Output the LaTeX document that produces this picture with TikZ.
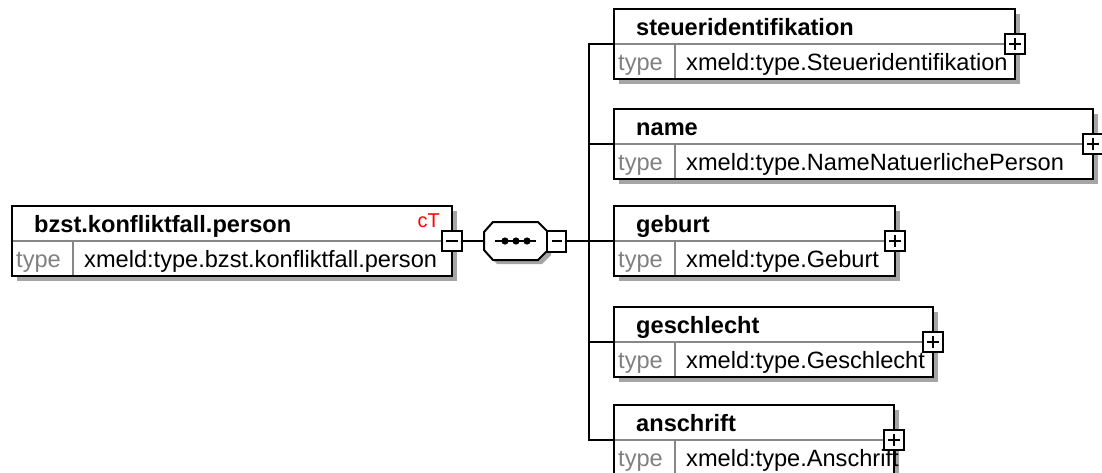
\documentclass[tikz,border=0pt]{standalone}
\usepackage{fontspec}
\setmainfont{Liberation Sans}
\definecolor{shadowgray}{RGB}{165,165,165}
\definecolor{typegray}{RGB}{128,128,128}
\definecolor{linegray}{RGB}{135,135,135}
\definecolor{ctred}{RGB}{255,0,0}
\tikzset{
  elembox/.style={draw=black, line width=2pt, fill=white, rectangle, anchor=north west, minimum height=70pt, inner sep=0pt, outer sep=0pt},
  titletext/.style={font=\fontsize{23.6}{28}\selectfont\bfseries, anchor=base west, inner sep=0pt},
  typetext/.style={font=\fontsize{23.6}{28}\selectfont, anchor=base west, inner sep=0pt},
  typelabel/.style={typetext, text=typegray},
  btnbox/.style={draw=black, line width=2pt, fill=white, minimum width=20pt, minimum height=20pt, inner sep=0pt, outer sep=0pt},
  conn/.style={line width=2pt, line cap=rect},
  sepline/.style={linegray, line width=1.5pt},
  signline/.style={line width=2.6pt}
}
\newcommand\xelem[6]{% #1 name, #2 left, #3 top, #4 width, #5 title, #6 type
  \fill[shadowgray] (#2+5,#3+5) rectangle ++(#4,70);
  \node[elembox, minimum width=#4pt] (#1) at (#2,#3) {};
  \draw[sepline] (#2+1,#3+35) -- (#2+#4-1,#3+35);
  \draw[sepline] (#2+61,#3+35) -- (#2+61,#3+69);
  \node[titletext] (#1-title) at (#2+22,#3+26) {#5};
  \node[typelabel] (#1-tl) at (#2+4,#3+61) {type};
  \node[typetext] (#1-type) at (#2+72,#3+61) {#6};
}
\newcommand\xplus[1]{% button with plus on right edge of element #1
  \node[btnbox] (#1-btn) at (#1.east) {};
  \draw[signline] ($(#1-btn.center)+(-6,0)$) -- ($(#1-btn.center)+(6,0)$);
  \draw[signline] ($(#1-btn.center)+(0,-6)$) -- ($(#1-btn.center)+(0,6)$);
}
\usetikzlibrary{calc}
\begin{document}
\begin{tikzpicture}[x=1pt,y=-1pt]
\useasboundingbox (0,0) rectangle (1102,472);
\clip (0,0) rectangle (1102,472);
\fill[white] (0,0) rectangle (1102,472);

% root element
\xelem{root}{12}{206}{440}{bzst.konfliktfall.person}{xmeld:type.bzst.konfliktfall.person}
\node[font=\fontsize{20}{24}\selectfont, text=ctred, anchor=base east, inner sep=0pt] (root-ct) at (440,227) {cT};
\node[btnbox] (root-btn) at (root.east) {};
\draw[signline] ($(root-btn.center)+(-6,0)$) -- ($(root-btn.center)+(6,0)$);

% sequence compositor
\fill[shadowgray] (488,236) -- (497,226) -- (542,226) -- (551,235) -- (551,255) -- (542,264) -- (497,264) -- (488,254) -- cycle;
\draw[line width=2pt, fill=white] (484,232) -- (493,222) -- (538,222) -- (547,231) -- (547,251) -- (538,260) -- (493,260) -- (484,250) -- cycle;
\node[minimum width=63pt, minimum height=38pt, inner sep=0pt, outer sep=0pt] (seq) at (515.5,241) {};
\draw[line width=2pt] (495,241) -- (536,241);
\foreach \dx in {505,516,527} \fill (\dx,241) circle (3.6);
\node[btnbox, minimum width=19pt, minimum height=21pt, anchor=west] (seq-btn) at (547,241) {};
\draw[signline] ($(seq-btn.center)+(-5,0)$) -- ($(seq-btn.center)+(5,0)$);

\draw[conn] (root-btn.east) -- (seq.west);

% children
\xelem{steuer}{614}{9}{401}{steueridentifikation}{xmeld:type.Steueridentifikation}
\xelem{name}{614}{109}{479}{name}{xmeld:type.NameNatuerlichePerson}
\xelem{geburt}{614}{206}{281}{geburt}{xmeld:type.Geburt}
\xelem{geschlecht}{614}{307}{319}{geschlecht}{xmeld:type.Geschlecht}
\xelem{anschrift}{614}{405}{280}{anschrift}{xmeld:type.Anschrift}
\xplus{steuer}
\xplus{name}
\xplus{geburt}
\xplus{geschlecht}
\xplus{anschrift}

% connectors
\coordinate (bus) at (589,241);
\draw[conn] (seq-btn.east) -- (geburt.west);
\draw[conn] (steuer.west) -- (steuer.west -| bus) -- (anschrift.west -| bus) -- (anschrift.west);
\draw[conn] (name.west) -- (name.west -| bus);
\draw[conn] (geschlecht.west) -- (geschlecht.west -| bus);
\end{tikzpicture}
\end{document}
